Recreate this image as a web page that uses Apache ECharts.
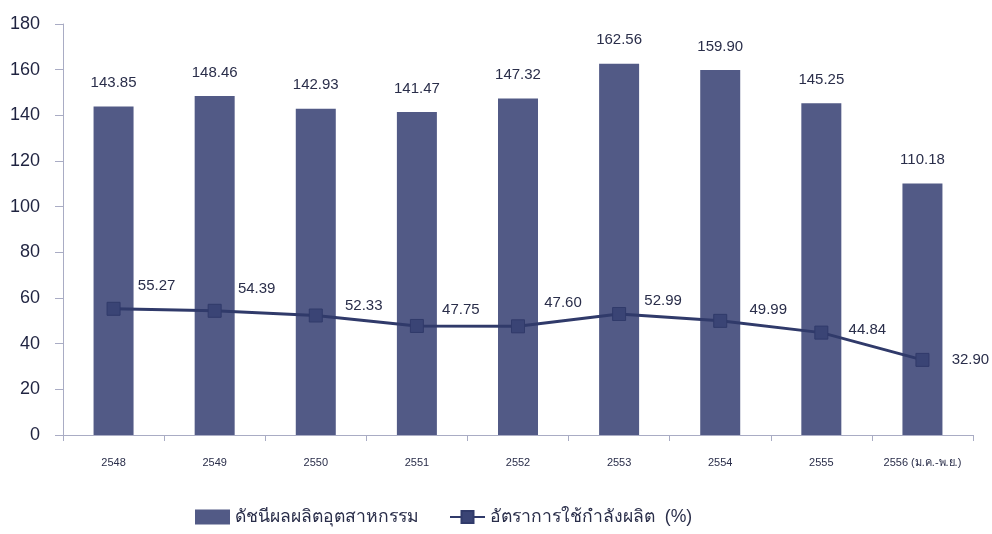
<!DOCTYPE html>
<html><head><meta charset="utf-8">
<script src="https://cdn.jsdelivr.net/npm/echarts@6/dist/echarts.min.js"></script>
<style>html,body{margin:0;padding:0;background:#fff}#c{width:992px;height:534px}</style>
</head><body><div id="c"></div>
<script>
const categories = ['2548','2549','2550','2551','2552','2553','2554','2555','2556 (ม.ค.-พ.ย.)'];
const indexValues = [143.85,148.46,142.93,141.47,147.32,162.56,159.90,145.25,110.18];
const rateValues = [55.27,54.39,52.33,47.75,47.60,52.99,49.99,44.84,32.90];
const yTicks = [0,20,40,60,80,100,120,140,160,180];
const barName = 'ดัชนีผลผลิตอุตสาหกรรม';
const lineName = 'อัตราการใช้กำลังผลิต  (%)';

// label placement (styling only)
const lineLabelOffsets = [[43,-23],[42,-22],[48,-10],[44,-16],[45,-23],[44,-13],[48,-11],[46,-3],[48,0]];

const font = 'Liberation Sans, Arial, sans-serif';
const chart = echarts.init(document.getElementById('c'));
chart.setOption({
  animation:false,
  backgroundColor:'#fff',
  grid:{left:63,right:19,top:24,bottom:99},
  legend:{bottom:3,left:190,itemWidth:35,itemHeight:15,itemGap:30,
    textStyle:{fontFamily:font,fontSize:17.6,color:'#2a2e4a'},
    data:[{name:barName,icon:'rect'},{name:lineName}]},
  xAxis:{type:'category',data:categories,
    axisLine:{lineStyle:{color:'#a9acc4'}},
    axisTick:{show:true,length:6,lineStyle:{color:'#a9acc4'}},
    axisLabel:{fontFamily:font,fontSize:11,color:'#2a2e4a',margin:22}},
  yAxis:{type:'value',min:yTicks[0],max:yTicks[yTicks.length-1],interval:20,
    splitLine:{show:false},
    axisLine:{show:true,lineStyle:{color:'#a9acc4'}},
    axisTick:{show:true,length:8,inside:false,lineStyle:{color:'#a9acc4'}},
    axisLabel:{fontFamily:font,fontSize:18,color:'#1f2340',margin:23}},
  series:[
    {name:barName,type:'bar',data:indexValues,barWidth:40,
      itemStyle:{color:'#525a86'},
      label:{show:true,position:'top',distance:16,formatter:p=>p.value.toFixed(2),
        fontFamily:font,fontSize:15,color:'#2a2e4a'}},
    {name:lineName,type:'line',data:rateValues.map((v,i)=>({value:v,
        label:{offset:lineLabelOffsets[i]}})),
      symbol:'rect',symbolSize:13,
      lineStyle:{color:'#303a6a',width:3},
      itemStyle:{color:'#3a4475',borderColor:'#303a6a',borderWidth:1},
      label:{show:true,position:'inside',formatter:p=>p.value.toFixed(2),
        fontFamily:font,fontSize:15,color:'#2a2e4a'}}
  ]
});
</script></body></html>
